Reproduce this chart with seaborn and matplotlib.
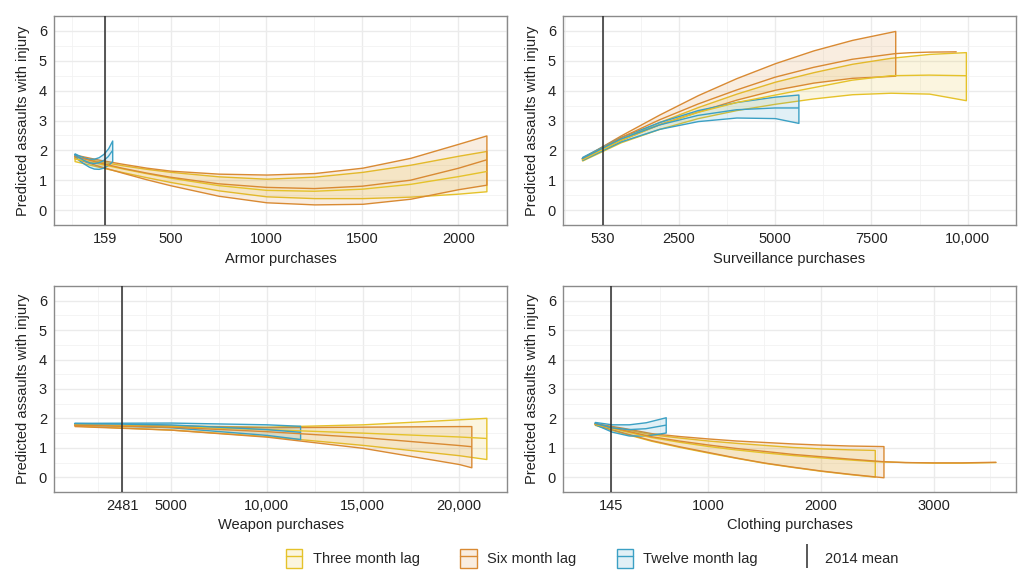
import numpy as np
import pandas as pd
import matplotlib
matplotlib.use("Agg")
import matplotlib.pyplot as plt
import seaborn as sns
from matplotlib.patches import Patch
from matplotlib.lines import Line2D
from matplotlib.legend_handler import HandlerTuple

# lags and colours
lags = ["Three month lag", "Six month lag", "Twelve month lag"]
lag_colors = ["#E5C22A", "#D98A33", "#3BA0C4"]

# ---- Armor purchases ----
armor_mean = 159
armor_ticks = [159, 500, 1000, 1500, 2000]
armor_ticklabels = ["159", "500", "1000", "1500", "2000"]
armor_x_3m = [0, 125, 250, 375, 500, 750, 1000, 1250, 1500, 1750, 2000, 2146]
armor_lo_3m = [1.64, 1.45, 1.27, 1.10, 0.94, 0.66, 0.46, 0.40, 0.40, 0.45, 0.55, 0.63]
armor_fit_3m = [1.72, 1.55, 1.38, 1.22, 1.07, 0.82, 0.66, 0.63, 0.70, 0.86, 1.12, 1.29]
armor_hi_3m = [1.80, 1.64, 1.50, 1.38, 1.28, 1.13, 1.05, 1.12, 1.28, 1.52, 1.82, 1.98]
armor_x_6m = [0, 125, 250, 375, 500, 750, 1000, 1250, 1500, 1750, 2000, 2146]
armor_lo_6m = [1.74, 1.48, 1.25, 1.03, 0.83, 0.48, 0.26, 0.19, 0.21, 0.38, 0.70, 0.85]
armor_fit_6m = [1.80, 1.59, 1.40, 1.24, 1.10, 0.88, 0.76, 0.72, 0.80, 1.00, 1.40, 1.68]
armor_hi_6m = [1.86, 1.69, 1.55, 1.42, 1.32, 1.22, 1.19, 1.24, 1.42, 1.75, 2.22, 2.50]
armor_x_12m = [0, 25, 50, 75, 100, 125, 150, 175, 196]
armor_lo_12m = [1.82, 1.66, 1.55, 1.45, 1.39, 1.38, 1.42, 1.51, 1.64]
armor_fit_12m = [1.86, 1.75, 1.66, 1.59, 1.56, 1.58, 1.65, 1.79, 1.98]
armor_hi_12m = [1.90, 1.82, 1.76, 1.72, 1.72, 1.77, 1.88, 2.07, 2.33]

# ---- Surveillance purchases ----
surv_mean = 530
surv_ticks = [530, 2500, 5000, 7500, 10000]
surv_ticklabels = ["530", "2500", "5000", "7500", "10,000"]
surv_x_3m = [0, 1000, 2000, 3000, 4000, 5000, 6000, 7000, 8000, 9000, 9950]
surv_lo_3m = [1.66, 2.27, 2.72, 3.08, 3.35, 3.56, 3.74, 3.88, 3.93, 3.90, 3.68]
surv_fit_3m = [1.68, 2.33, 2.85, 3.27, 3.60, 3.85, 4.10, 4.35, 4.50, 4.52, 4.50]
surv_hi_3m = [1.70, 2.38, 2.95, 3.45, 3.90, 4.30, 4.62, 4.90, 5.10, 5.23, 5.29]
surv_x_6m = [0, 1000, 2000, 3000, 4000, 5000, 6000, 7000, 8118]
surv_lo_6m = [1.69, 2.35, 2.88, 3.30, 3.70, 4.03, 4.27, 4.43, 4.50]
surv_fit_6m = [1.72, 2.42, 3.02, 3.55, 4.02, 4.45, 4.78, 5.05, 5.24]
surv_hi_6m = [1.75, 2.50, 3.20, 3.85, 4.42, 4.92, 5.35, 5.70, 6.00]
surv_extx_6m = [8500, 9000, 9700]
surv_ext_6m = [5.27, 5.29, 5.30]
surv_x_12m = [0, 1000, 2000, 3000, 4000, 5000, 5607]
surv_lo_12m = [1.68, 2.30, 2.72, 2.98, 3.10, 3.08, 2.92]
surv_fit_12m = [1.73, 2.38, 2.85, 3.17, 3.36, 3.42, 3.42]
surv_hi_12m = [1.78, 2.45, 2.95, 3.35, 3.62, 3.80, 3.87]

# ---- Weapon purchases ----
weap_mean = 2481
weap_ticks = [2481, 5000, 10000, 15000, 20000]
weap_ticklabels = ["2481", "5000", "10,000", "15,000", "20,000"]
weap_x_3m = [0, 5000, 10000, 15000, 20000, 21425]
weap_lo_3m = [1.76, 1.62, 1.40, 1.10, 0.75, 0.62]
weap_fit_3m = [1.78, 1.72, 1.62, 1.50, 1.37, 1.32]
weap_hi_3m = [1.80, 1.76, 1.72, 1.80, 1.97, 2.02]
weap_x_6m = [0, 5000, 10000, 15000, 20000, 20644]
weap_lo_6m = [1.74, 1.62, 1.38, 1.00, 0.45, 0.34]
weap_fit_6m = [1.77, 1.70, 1.55, 1.35, 1.08, 1.04]
weap_hi_6m = [1.80, 1.76, 1.70, 1.72, 1.74, 1.74]
weap_x_12m = [0, 5000, 10000, 11734]
weap_lo_12m = [1.80, 1.70, 1.44, 1.30]
weap_fit_12m = [1.83, 1.78, 1.62, 1.53]
weap_hi_12m = [1.85, 1.86, 1.80, 1.75]

# ---- Clothing purchases ----
cloth_mean = 145
cloth_ticks = [145, 1000, 2000, 3000]
cloth_ticklabels = ["145", "1000", "2000", "3000"]
cloth_x_3m = [0, 250, 500, 750, 1000, 1250, 1500, 1750, 2000, 2250, 2478]
cloth_lo_3m = [1.78, 1.50, 1.24, 1.03, 0.84, 0.66, 0.49, 0.35, 0.22, 0.11, 0.02]
cloth_fit_3m = [1.80, 1.57, 1.35, 1.19, 1.05, 0.93, 0.83, 0.74, 0.66, 0.59, 0.53]
cloth_hi_3m = [1.82, 1.65, 1.46, 1.35, 1.25, 1.17, 1.10, 1.03, 0.98, 0.95, 0.93]
cloth_extx_3m = [2750, 3000, 3250, 3551]
cloth_ext_3m = [0.50, 0.48, 0.48, 0.50]
cloth_x_6m = [0, 250, 500, 750, 1000, 1250, 1500, 1750, 2000, 2250, 2555]
cloth_lo_6m = [1.80, 1.52, 1.26, 1.05, 0.86, 0.67, 0.50, 0.36, 0.23, 0.12, 0.00]
cloth_fit_6m = [1.82, 1.60, 1.38, 1.23, 1.10, 0.98, 0.88, 0.78, 0.70, 0.62, 0.53]
cloth_hi_6m = [1.84, 1.68, 1.50, 1.40, 1.32, 1.25, 1.20, 1.15, 1.11, 1.08, 1.06]
cloth_extx_6m = [2750, 3000, 3250, 3551]
cloth_ext_6m = [0.50, 0.49, 0.49, 0.51]
cloth_x_12m = [0, 150, 300, 450, 627]
cloth_lo_12m = [1.80, 1.55, 1.42, 1.42, 1.52]
cloth_fit_12m = [1.84, 1.68, 1.62, 1.65, 1.77]
cloth_hi_12m = [1.88, 1.80, 1.80, 1.87, 2.04]

sns.set_theme(style="white")
plt.rcParams["font.family"] = ["Liberation Sans", "DejaVu Sans"]

FS = 10.5
palette = dict(zip(lags, lag_colors))


def draw_panel(ax, bands, fits, mean, ticks, ticklabels, xlabel):
    # confidence ribbons with outline
    for lag, x, lo, hi in bands:
        c = palette[lag]
        ax.fill_between(x, lo, hi, facecolor=matplotlib.colors.to_rgba(c, 0.15),
                        edgecolor=c, linewidth=1.0, zorder=2)
    # fitted lines
    rows = []
    for lag, x, y in fits:
        for xi, yi in zip(x, y):
            rows.append({"x": xi, "y": yi, "lag": lag})
    df = pd.DataFrame(rows)
    sns.lineplot(data=df, x="x", y="y", hue="lag", hue_order=lags, palette=palette,
                 estimator=None, sort=False, linewidth=1.0, legend=False, ax=ax, zorder=3)
    ax.axvline(mean, color="#2b2b2b", linewidth=1.1, zorder=4)

    allx = np.concatenate([np.asarray(f[1], float) for f in fits] + [np.asarray(b[1], float) for b in bands])
    lo_x, hi_x = allx.min(), allx.max()
    pad = 0.05 * (hi_x - lo_x)
    ax.set_xlim(lo_x - pad, hi_x + pad)
    ax.set_ylim(-0.3, 6.3)

    ax.set_xticks(ticks)
    ax.set_xticklabels(ticklabels)
    t = np.asarray(ticks, float)
    mids = (t[:-1] + t[1:]) / 2
    minors = np.concatenate([[t[0] - (t[1] - t[0]) / 2], mids, [t[-1] + (t[-1] - t[-2]) / 2]])
    ax.set_xticks(minors, minor=True)
    ax.set_yticks(range(0, 7))
    ax.set_yticks(np.arange(-0.5, 6.6, 1.0), minor=True)

    ax.grid(which="major", color="#EBEBEB", linewidth=1.0)
    ax.grid(which="minor", color="#F2F2F2", linewidth=0.6)
    ax.set_axisbelow(True)
    ax.tick_params(which="major", length=3, width=0.8, color="#444444",
                   labelsize=FS, labelcolor="#222222", pad=2)
    ax.tick_params(which="minor", length=0)
    for s in ax.spines.values():
        s.set_color("#8a8a8a")
        s.set_linewidth(1.0)
    ax.set_xlabel(xlabel, fontsize=FS, color="#222222", labelpad=4)
    ax.set_ylabel("Predicted assaults with injury", fontsize=FS, color="#222222", labelpad=6)


fig = plt.figure(figsize=(10.3, 5.74), dpi=100)
W, H = 1030, 574
ax1 = fig.add_axes([54 / W, (H - 225) / H, 453 / W, 209 / H])
ax2 = fig.add_axes([563 / W, (H - 225) / H, 453 / W, 209 / H])
ax3 = fig.add_axes([54 / W, (H - 492) / H, 453 / W, 206 / H])
ax4 = fig.add_axes([563 / W, (H - 492) / H, 453 / W, 206 / H])

draw_panel(ax1,
           [(lags[0], armor_x_3m, armor_lo_3m, armor_hi_3m),
            (lags[1], armor_x_6m, armor_lo_6m, armor_hi_6m),
            (lags[2], armor_x_12m, armor_lo_12m, armor_hi_12m)],
           [(lags[0], armor_x_3m, armor_fit_3m),
            (lags[1], armor_x_6m, armor_fit_6m),
            (lags[2], armor_x_12m, armor_fit_12m)],
           armor_mean, armor_ticks, armor_ticklabels, "Armor purchases")

draw_panel(ax2,
           [(lags[0], surv_x_3m, surv_lo_3m, surv_hi_3m),
            (lags[1], surv_x_6m, surv_lo_6m, surv_hi_6m),
            (lags[2], surv_x_12m, surv_lo_12m, surv_hi_12m)],
           [(lags[0], surv_x_3m, surv_fit_3m),
            (lags[1], surv_x_6m + surv_extx_6m, surv_fit_6m + surv_ext_6m),
            (lags[2], surv_x_12m, surv_fit_12m)],
           surv_mean, surv_ticks, surv_ticklabels, "Surveillance purchases")

draw_panel(ax3,
           [(lags[0], weap_x_3m, weap_lo_3m, weap_hi_3m),
            (lags[1], weap_x_6m, weap_lo_6m, weap_hi_6m),
            (lags[2], weap_x_12m, weap_lo_12m, weap_hi_12m)],
           [(lags[0], weap_x_3m, weap_fit_3m),
            (lags[1], weap_x_6m, weap_fit_6m),
            (lags[2], weap_x_12m, weap_fit_12m)],
           weap_mean, weap_ticks, weap_ticklabels, "Weapon purchases")

draw_panel(ax4,
           [(lags[0], cloth_x_3m, cloth_lo_3m, cloth_hi_3m),
            (lags[1], cloth_x_6m, cloth_lo_6m, cloth_hi_6m),
            (lags[2], cloth_x_12m, cloth_lo_12m, cloth_hi_12m)],
           [(lags[0], cloth_x_3m + cloth_extx_3m, cloth_fit_3m + cloth_ext_3m),
            (lags[1], cloth_x_6m + cloth_extx_6m, cloth_fit_6m + cloth_ext_6m),
            (lags[2], cloth_x_12m, cloth_fit_12m)],
           cloth_mean, cloth_ticks, cloth_ticklabels, "Clothing purchases")

# legend
handles = [(Patch(facecolor=matplotlib.colors.to_rgba(c, 0.15), edgecolor=c, linewidth=1.0),
            Line2D([], [], color=c, linewidth=1.0)) for c in lag_colors]
handles.append(Line2D([], [], color="#2b2b2b", marker="|", linestyle="None",
                      markersize=17, markeredgewidth=1.1))
labels = lags + ["2014 mean"]
fig.legend(handles, labels, handler_map={tuple: HandlerTuple(ndivide=1, pad=0)},
           loc="lower center", bbox_to_anchor=(0.575, -0.012), ncol=4, frameon=False,
           fontsize=FS, handlelength=1.1, handleheight=1.6, handletextpad=0.7,
           columnspacing=2.8)

fig.savefig("out.png", dpi=100)
